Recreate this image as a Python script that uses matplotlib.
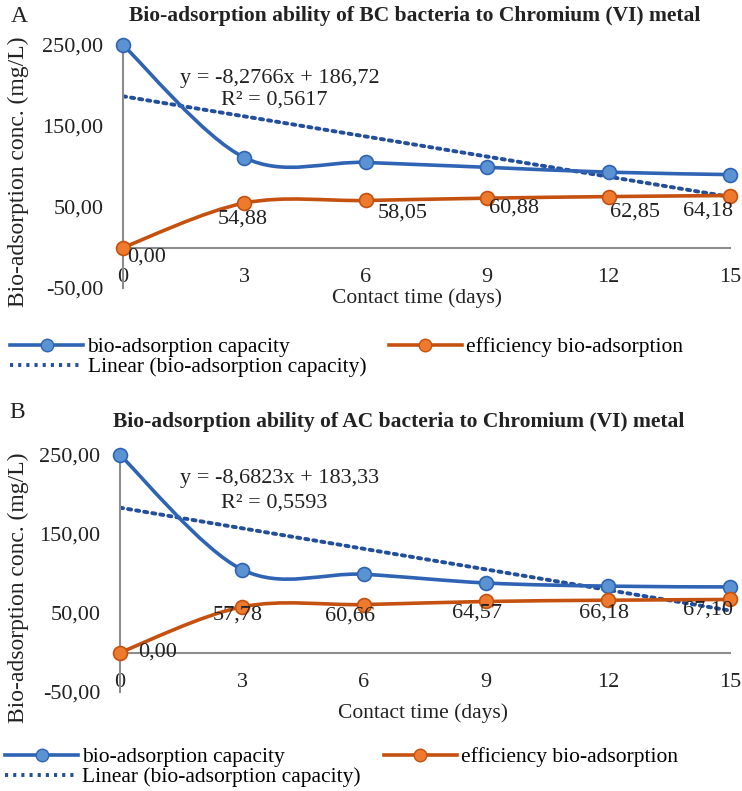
import numpy as np
import matplotlib
matplotlib.use("Agg")
import matplotlib.pyplot as plt
from matplotlib.path import Path
from matplotlib.patches import PathPatch
from matplotlib.lines import Line2D

# ---------------- data ----------------
days = [0, 3, 6, 9, 12, 15]
cap_bc = [250.0, 111.0, 105.0, 99.0, 93.0, 90.0]
eff_bc = [0.00, 54.88, 58.05, 60.88, 62.85, 64.18]
cap_ac = [250.0, 105.0, 99.0, 88.0, 84.0, 83.0]
eff_ac = [0.00, 57.78, 60.66, 64.57, 66.18, 67.10]
trend_bc = (-8.2766, 186.72, 0.5617)   # slope, intercept, R2
trend_ac = (-8.6823, 183.33, 0.5593)
y_ticks = [-50, 50, 150, 250]
x_ticks = [0, 3, 6, 9, 12, 15]
titles = ["Bio-adsorption ability of BC bacteria to Chromium (VI) metal",
          "Bio-adsorption ability of AC bacteria to Chromium (VI) metal"]
panel_letters = ["A", "B"]
legend_labels = ["bio-adsorption capacity", "Linear (bio-adsorption capacity)",
                 "efficiency bio-adsorption"]

# ---------------- style ----------------
W, H = 742, 791
SERIF = ["Liberation Serif", "DejaVu Serif"]
plt.rcParams["font.family"] = SERIF
BLUE_LINE = "#2F64B4"
BLUE_FILL = "#5B93D2"
ORANGE_LINE = "#C4510F"
ORANGE_FILL = "#EE7A2E"
TREND = "#234E9C"
AXIS_GRAY = "#8C8C8C"
TXT = "#222222"

fig = plt.figure(figsize=(W / 100, H / 100), dpi=100)


def px_axes(x0, x1, ytop, ybot):
    return fig.add_axes([x0 / W, 1 - ybot / H, (x1 - x0) / W, (ybot - ytop) / H])


def smooth_path(x, y):
    pts = np.column_stack([x, y]).astype(float)
    n = len(pts)
    verts = [tuple(pts[0])]
    codes = [Path.MOVETO]
    for i in range(n - 1):
        p0 = pts[i - 1] if i > 0 else pts[i]
        p1 = pts[i]
        p2 = pts[i + 1]
        p3 = pts[i + 2] if i + 2 < n else pts[i + 1]
        c1 = p1 + (p2 - p0) / 6.0
        c2 = p2 - (p3 - p1) / 6.0
        verts += [tuple(c1), tuple(c2), tuple(p2)]
        codes += [Path.CURVE4] * 3
    return Path(verts, codes)


def fmt(v):
    return f"{v:.2f}".replace(".", ",")


def comma(v):
    return str(v).replace(".", ",")


panels = [
    dict(box=(123, 730, 45, 288), cap=cap_bc, eff=eff_bc, trend=trend_bc,
         title_xy=(415, 16), letter=(11, 16), ylab_y=172,
         eq_xy=(180, 78), r2_xy=(221, 100), xlab_xy=(417, 298), leg_xy=(10, 337),
         lab_off=[(24, 10), (-2, 16), (37, 13), (27, 10), (26, 15), (-22, 16)]),
    dict(box=(120, 730, 455, 692), cap=cap_ac, eff=eff_ac, trend=trend_ac,
         title_xy=(399, 422), letter=(9, 412), ylab_y=588,
         eq_xy=(180, 478), r2_xy=(221, 503), xlab_xy=(423, 713), leg_xy=(5, 747),
         lab_off=[(38, 0), (-4, 8), (-14, 11), (-9, 12), (-4, 13), (-22, 11)]),
]

for k, p in enumerate(panels):
    x0, x1, yt, yb = p["box"]
    ax = px_axes(x0, x1, yt, yb)
    ax.set_xlim(0, 15)
    ax.set_ylim(-50, 250)
    ax.patch.set_alpha(0)
    for s in ["top", "right"]:
        ax.spines[s].set_visible(False)
    for s in ["left", "bottom"]:
        ax.spines[s].set_color(AXIS_GRAY)
        ax.spines[s].set_linewidth(1.5)
    ax.spines["bottom"].set_position(("data", 0))
    ax.set_yticks(y_ticks)
    ax.set_yticklabels([fmt(v) for v in y_ticks])
    ax.set_xticks(x_ticks)
    ax.set_xticklabels([str(v) for v in x_ticks])
    ax.tick_params(axis="y", length=0, pad=14, labelsize=16, colors=TXT)
    ax.tick_params(axis="x", length=0, pad=15, labelsize=16, colors=TXT)

    # trend line
    slope, icpt, r2 = p["trend"]
    tx = np.array([days[0], days[-1]], dtype=float)
    ax.plot(tx, slope * tx + icpt, color=TREND, lw=2.8, linestyle=(0, (0.8, 1.3)),
            dash_capstyle="round", zorder=2)

    # smoothed series
    ax.add_patch(PathPatch(smooth_path(days, p["cap"]), fill=False,
                           edgecolor=BLUE_LINE, lw=2.6, zorder=3, clip_on=False))
    ax.add_patch(PathPatch(smooth_path(days, p["eff"]), fill=False,
                           edgecolor=ORANGE_LINE, lw=2.6, zorder=3, clip_on=False))
    ax.plot(days, p["cap"], linestyle="none", marker="o", ms=10,
            mfc=BLUE_FILL, mec=BLUE_LINE, mew=1.2, zorder=4, clip_on=False)
    ax.plot(days, p["eff"], linestyle="none", marker="o", ms=10,
            mfc=ORANGE_FILL, mec=ORANGE_LINE, mew=1.2, zorder=4, clip_on=False)

    # data labels
    for d, v, off in zip(days, p["eff"], p["lab_off"]):
        ax.annotate(fmt(v), (d, v), xytext=(off[0], -off[1]),
                    textcoords="offset pixels", ha="center", va="center",
                    fontsize=16, color=TXT, zorder=5)

    # equation
    fig.text(p["eq_xy"][0] / W, 1 - p["eq_xy"][1] / H,
             f"y = {comma(slope)}x + {comma(icpt)}",
             fontsize=16, ha="left", va="center", color=TXT)
    fig.text(p["r2_xy"][0] / W, 1 - p["r2_xy"][1] / H,
             f"R² = {comma(r2)}",
             fontsize=16, ha="left", va="center", color=TXT)

    # titles, letters, axis labels
    fig.text(p["title_xy"][0] / W, 1 - p["title_xy"][1] / H, titles[k],
             fontsize=15.5, fontweight="bold", ha="center", va="center", color=TXT)
    fig.text(p["letter"][0] / W, 1 - p["letter"][1] / H, panel_letters[k],
             fontsize=17, ha="left", va="center", color=TXT)
    fig.text(18 / W, 1 - p["ylab_y"] / H, "Bio-adsorption conc. (mg/L)",
             rotation=90, fontsize=17, ha="center", va="center", color=TXT)
    fig.text(p["xlab_xy"][0] / W, 1 - p["xlab_xy"][1] / H, "Contact time (days)",
             fontsize=15.5, ha="center", va="center", color=TXT)

    handles = [
        Line2D([], [], color=BLUE_LINE, lw=2.6, marker="o", ms=9,
               mfc=BLUE_FILL, mec=BLUE_LINE),
        Line2D([], [], color=TREND, lw=2.8, linestyle=(0, (0.8, 1.3))),
        Line2D([], [], color=ORANGE_LINE, lw=2.6, marker="o", ms=9,
               mfc=ORANGE_FILL, mec=ORANGE_LINE),
    ]
    fig.legend(handles, legend_labels, loc="upper left",
               bbox_to_anchor=(p["leg_xy"][0] / W, 1 - p["leg_xy"][1] / H), ncol=2,
               frameon=False, fontsize=15.5, handlelength=3.4, handletextpad=0.2,
               columnspacing=1.05, labelspacing=0.0, borderpad=0, borderaxespad=0)

fig.savefig("out.png", dpi=100)
